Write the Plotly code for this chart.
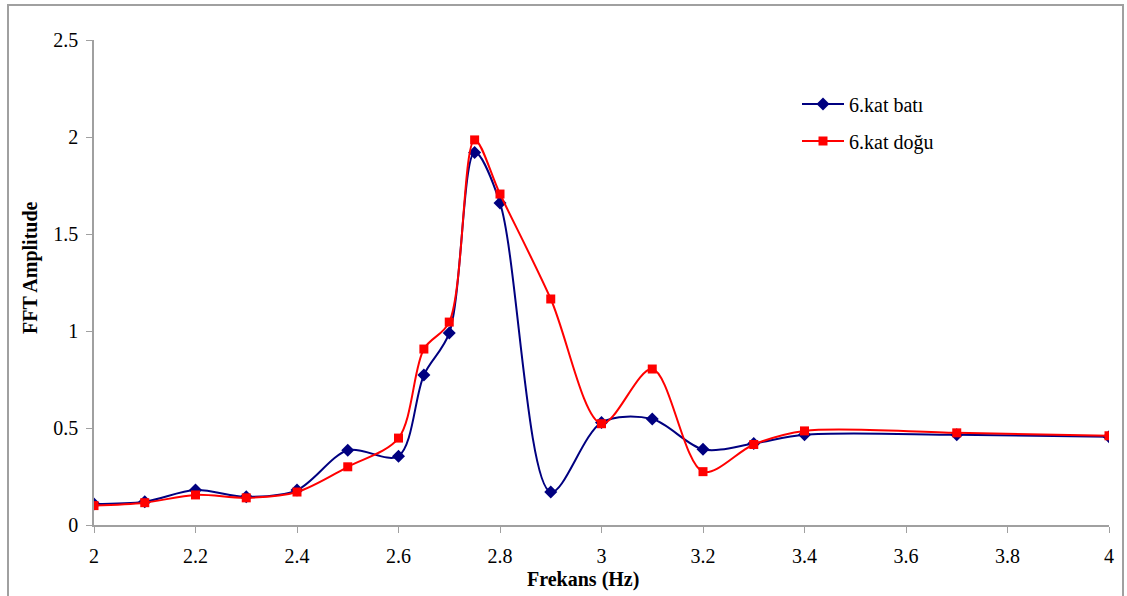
import plotly.graph_objects as go

freq = [2.0, 2.1, 2.2, 2.3, 2.4, 2.5, 2.6, 2.65, 2.7, 2.75, 2.8, 2.9, 3.0, 3.1, 3.2, 3.3, 3.4, 3.7, 4.0]
bati = [0.108, 0.12, 0.18, 0.145, 0.18, 0.385, 0.355, 0.773, 0.99, 1.92, 1.66, 0.17, 0.528, 0.546, 0.39, 0.42, 0.465, 0.465, 0.455]
dogu = [0.10, 0.115, 0.155, 0.14, 0.17, 0.30, 0.448, 0.907, 1.046, 1.985, 1.706, 1.165, 0.522, 0.804, 0.275, 0.415, 0.485, 0.475, 0.46]
x_ticks = [2, 2.2, 2.4, 2.6, 2.8, 3, 3.2, 3.4, 3.6, 3.8, 4]
y_ticks = [0, 0.5, 1, 1.5, 2, 2.5]

FONT = "Liberation Serif, Times New Roman, serif"
FS = 20

fig = go.Figure()
fig.add_trace(go.Scatter(
    x=freq, y=bati, name="6.kat batı", mode="lines+markers",
    line=dict(color="#000080", width=2, shape="spline", smoothing=0.9),
    marker=dict(symbol="diamond", size=10, color="#000080"),
    legend="legend",
))
fig.add_trace(go.Scatter(
    x=freq, y=dogu, name="6.kat doğu", mode="lines+markers",
    line=dict(color="#ff0000", width=2, shape="spline", smoothing=0.9),
    marker=dict(symbol="square", size=9, color="#ff0000"),
    legend="legend2",
))

L, R, T, B = 94, 18, 40, 71
W, H = 1127, 596
pw, ph = W - L - R, H - T - B

def px_x(p):
    return (p - L) / pw

def px_y(p):
    return (H - B - p) / ph

axis_common = dict(
    showline=True, linecolor="#a0a0a0", linewidth=1.5,
    ticks="outside", ticklen=6, tickcolor="#a0a0a0", tickwidth=1,
    showgrid=False, zeroline=False,
    tickfont=dict(family=FONT, size=FS, color="#000000"),
)

legend_common = dict(xanchor="left", yanchor="middle", itemwidth=42,
                     bgcolor="rgba(0,0,0,0)", font=dict(family=FONT, size=FS))

fig.update_layout(
    width=W, height=H,
    margin=dict(l=L, r=R, t=T, b=B),
    paper_bgcolor="white", plot_bgcolor="white",
    font=dict(family=FONT, color="#000000", size=FS),
    xaxis=dict(range=[2, 4], tickvals=x_ticks, ticktext=[f"{v:g}" for v in x_ticks],
               ticklabelstandoff=6, **axis_common),
    yaxis=dict(range=[0, 2.5], tickvals=y_ticks, ticktext=[f"{v:g}" for v in y_ticks],
               ticklabelstandoff=4, **axis_common),
    legend=dict(x=px_x(797), y=px_y(104), **legend_common),
    legend2=dict(x=px_x(797), y=px_y(141), **legend_common),
    showlegend=True,
    shapes=[dict(type="rect", xref="paper", yref="paper",
                 x0=px_x(8), x1=px_x(1123), y0=px_y(620), y1=px_y(5),
                 line=dict(color="#a0a0a0", width=2), layer="below")],
    annotations=[
        dict(text="<b>Frekans (Hz)</b>", xref="paper", yref="paper",
             x=px_x(583), y=px_y(579), xanchor="center", yanchor="middle",
             showarrow=False, font=dict(family=FONT, size=FS)),
        dict(text="<b>FFT Amplitude</b>", xref="paper", yref="paper",
             x=px_x(30), y=px_y(268), xanchor="center", yanchor="middle",
             textangle=-90, showarrow=False, font=dict(family=FONT, size=FS)),
    ],
)

fig.write_html("out.html")
